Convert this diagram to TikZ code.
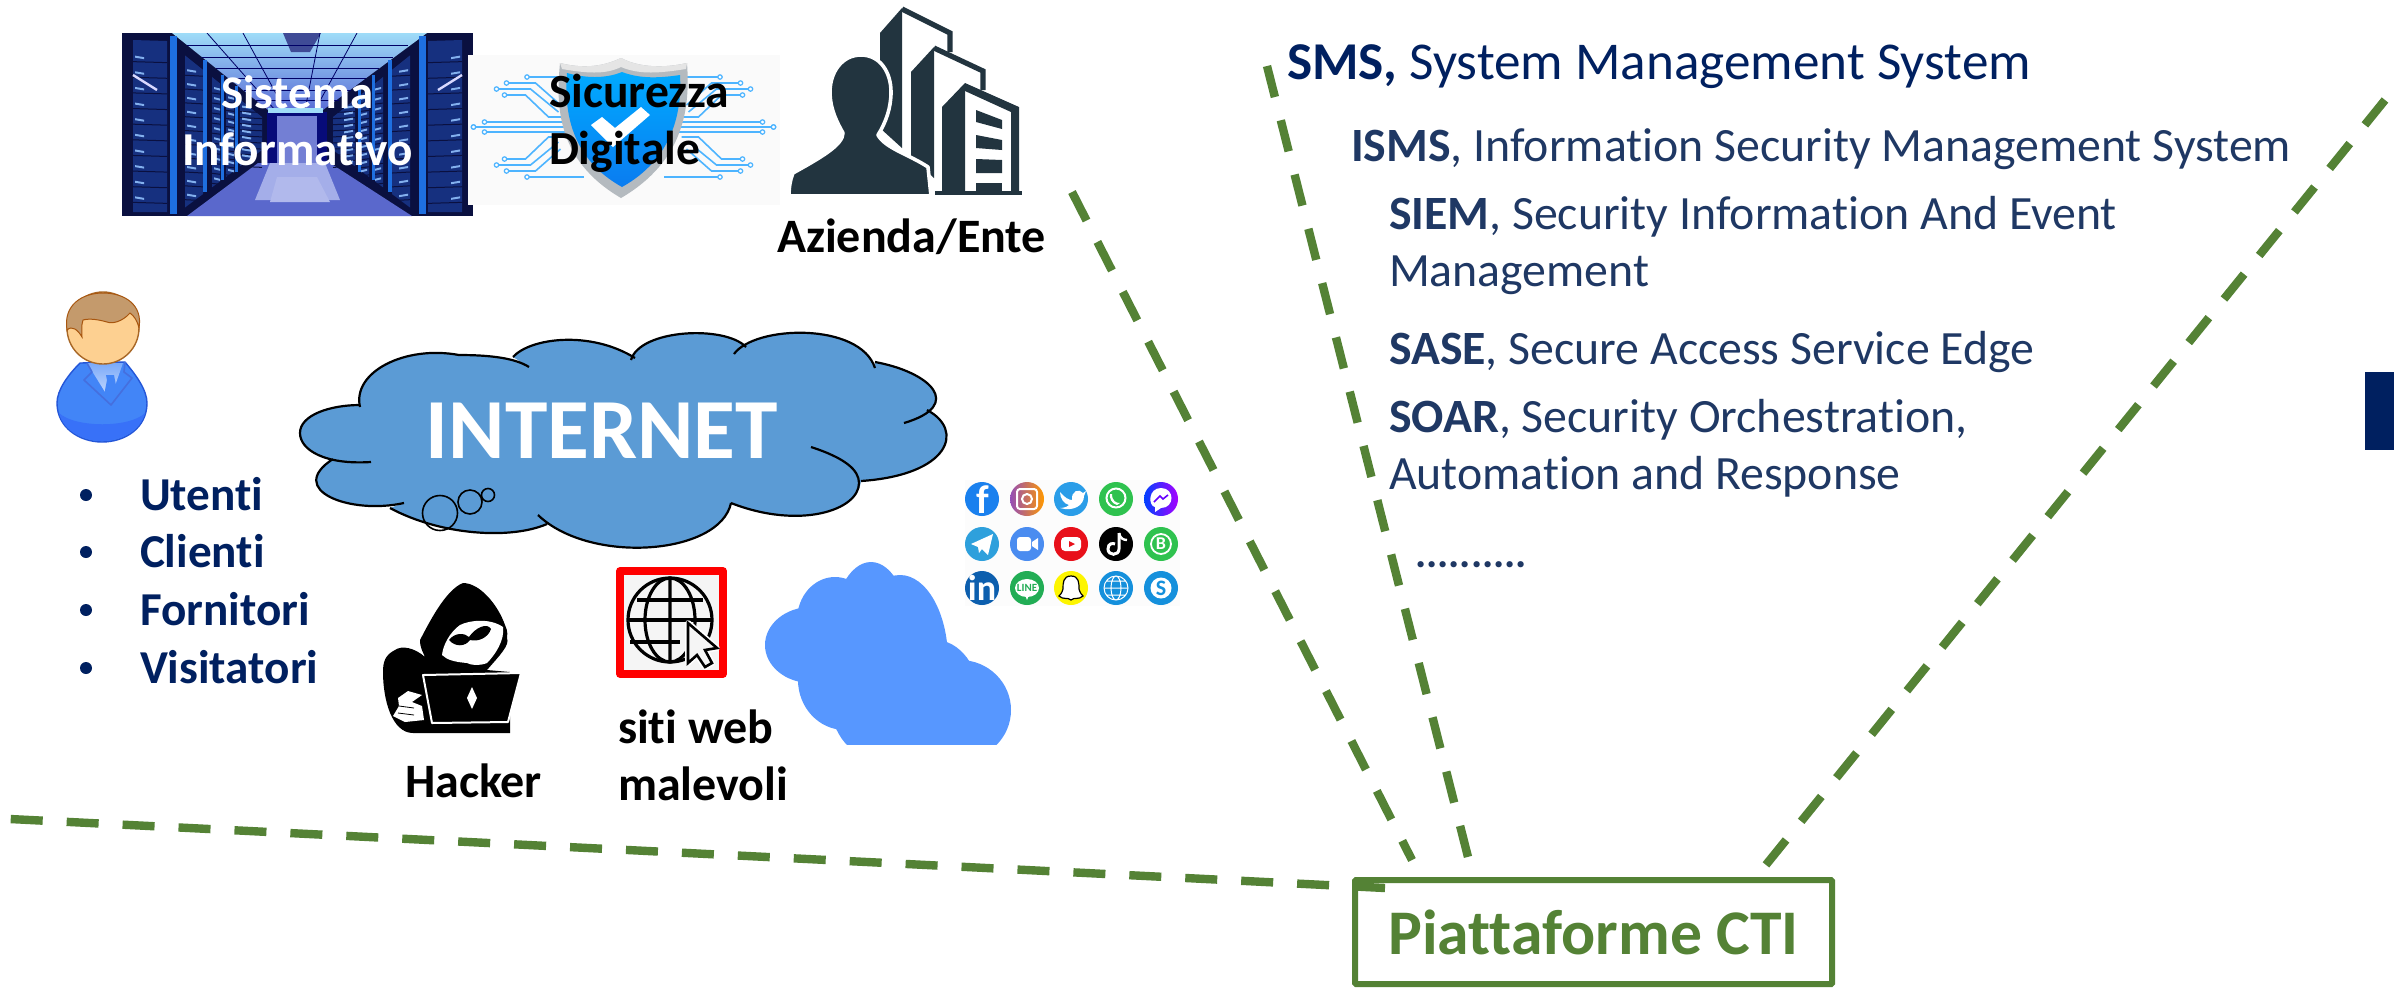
\documentclass[tikz,border=0pt]{standalone}
\usepackage{fontspec}
\setmainfont[Ligatures=NoCommon]{Carlito}
\usetikzlibrary{shapes.geometric}
\definecolor{navy}{HTML}{002060}
\definecolor{slate}{HTML}{1F3864}
\definecolor{ctigreen}{HTML}{548235}
\definecolor{iconslate}{HTML}{22343F}
\definecolor{cloudblue}{HTML}{5B9BD5}
\definecolor{softcloud}{HTML}{5797FF}
\definecolor{circuit}{HTML}{4DB4FF}
\definecolor{rackdark}{HTML}{0A1040}
\definecolor{rackface}{HTML}{16307F}
\definecolor{rackstrip}{HTML}{1E6FE0}
\definecolor{ceilA}{HTML}{9FDCF8}
\definecolor{ceilB}{HTML}{5A6CD6}
\definecolor{floorA}{HTML}{5A68CC}
\definecolor{floorB}{HTML}{7D8BE0}
\definecolor{shieldA}{HTML}{00AAFF}
\definecolor{shieldB}{HTML}{0A7CF0}
\definecolor{shieldgrey}{HTML}{B4BABF}
\definecolor{fbblue}{HTML}{1A80EE}
\definecolor{wagreen}{HTML}{2FC24F}
\definecolor{twblue}{HTML}{2A9DE8}
\definecolor{tgblue}{HTML}{2EA0DC}
\definecolor{zmblue}{HTML}{4A8CF0}
\definecolor{ytred}{HTML}{E8101A}
\definecolor{liblue}{HTML}{0D5FAE}
\definecolor{lngreen}{HTML}{22AD55}
\definecolor{scyellow}{HTML}{FDF500}
\definecolor{skblue}{HTML}{1590DC}
\definecolor{suit}{HTML}{4285F7}
\definecolor{suitedge}{HTML}{2456D8}
\definecolor{faceskin}{HTML}{FDD091}
\definecolor{hairtone}{HTML}{C49A6C}
\definecolor{hairedge}{HTML}{A8560F}
\newcommand\pxf[1]{\fontsize{#1}{#1}\selectfont}
\tikzset{
 x=.5pt,y=-.5pt,
 txt/.style={inner sep=0pt,outer sep=0pt,anchor=base west},
 darklabel/.style={txt,font=\pxf{24}\bfseries,text=black},
 bulletlabel/.style={txt,font=\pxf{23.6}\bfseries,text=navy},
 acro/.style={txt,font=\pxf{23.9},text=slate,align=left},
 greendash/.style={draw=ctigreen,line width=4.2pt,dash pattern=on 16pt off 12pt},
 social/.style={inner sep=0pt,outer sep=0pt,text=white,font=\pxf{15}\bfseries},
 wl/.style={white,line width=.5pt},
 circ/.style={circuit,line width=.8pt},
}
\begin{document}
\begin{tikzpicture}
\useasboundingbox (0,0) rectangle (2394,987);
\fill[white] (0,0) rectangle (2394,987);

% ---------- Server image
\begin{scope}
\clip (122,33) rectangle (473,216);
\fill[rackdark] (122,33) rectangle (473,216);
\shade[top color=ceilA,bottom color=ceilB] (172,33) -- (427,33) -- (323,110) -- (268,110) -- cycle;
\fill[ceilB!70!black] (283,33) -- (321,33) -- (310,52) -- (291,52) -- cycle;
\draw[black!60!blue,line width=.4pt] (207,33) -- (275,110) (243,33) -- (285,110) (320,33) -- (305,110) (357,33) -- (315,110);
\foreach \yy/\xa in {45/187,57/202,68/216,78/229,90/244,100/256} \draw[black!60!blue,line width=.4pt] (\xa,\yy) -- ({595-\xa},\yy);
\fill[floorA] (258,163) -- (330,163) -- (412,216) -- (187,216) -- cycle;
\fill[floorB!70!white] (270,163) -- (325,163) -- (340,200) -- (255,200) -- cycle;
\fill[floorB!60!white] (277,177) -- (317,177) -- (330,202) -- (270,202) -- cycle;
\fill[rackdark!70!blue] (267,112) rectangle (327,163);
\fill[floorA!85!white] (277,116) rectangle (317,163);
\fill[ceilA] (268,108) rectangle (323,113);
\foreach \xa/\xb in {133/167,185/203,212/220,226/234,240/262} {
  \foreach \mir in {0,1} {
  \begin{scope}[shift={({595*\mir},0)},xscale={1-2*\mir}]
    \pgfmathsetmacro\ta{max(40,45+.8*(\xa-172))}
    \pgfmathsetmacro\tb{max(40,45+.8*(\xb-172))}
    \pgfmathsetmacro\ba{min(212,206-.746*(\xa-187))}
    \pgfmathsetmacro\bb{min(212,206-.746*(\xb-187))}
    \fill[rackface] (\xa,\ta) -- (\xb,\tb) -- (\xb,\bb) -- (\xa,\ba) -- cycle;
    \foreach \k in {1,...,10} {
      \pgfmathsetmacro\ya{\ta+(\ba-\ta)*\k/11}
      \fill[white!45!rackstrip] (\xa+2,\ya) -- +({min(9,\xb-\xa-2)},1.5) -- +({min(9,\xb-\xa-2)},3.5) -- +(0,2) -- cycle;
      \draw[rackdark,line width=.5pt] (\xa,\ya+6) -- (\xb,\ya+7);
    }
  \end{scope}
  }
}
\foreach \xs/\ws/\ya/\yb in {173/7/36/214,205/4/60/192,222/3/75/180,236/3/86/172} {
  \fill[rackstrip] (\xs-\ws/2,\ya) rectangle (\xs+\ws/2,\yb);
  \fill[rackstrip] ({595-\xs-\ws/2},\ya) rectangle ({595-\xs+\ws/2},\yb);
}
\draw[white!85!blue,line width=1.2pt] (133,75) -- (157,90) (462,75) -- (438,90);
\end{scope}

% ---------- Shield image
\fill[black!2] (468,55) rectangle (780,205);
\foreach \sx/\sy in {1/1,-1/1,1/-1,-1/-1} {
\begin{scope}[shift={(623.5,127)},xscale=\sx,yscale=\sy]
  \draw[circ] (-96.5,-50) -- (-40,-50);
  \draw[circ] (-117,-44) -- (-88,-44) -- (-63,-22);
  \draw[circ] (-127,-38) -- (-93,-38) -- (-65,-15);
  \draw[circ] (-119,-32) -- (-98,-32) -- (-75,-10) -- (-58,-10);
  \draw[circ] (-139,-5) -- (-50,-5);
  \draw[circ] (-150,0) -- (-50,0);
  \foreach \px/\py in {-96.5/-50,-117/-44,-127/-38,-119/-32,-139/-5,-150/0}
    \draw[circuit,line width=.6pt,fill=white] (\px,\py) circle (2.2);
\end{scope}
}
\fill[shieldgrey] (621,58) .. controls (600,68) and (580,68) .. (560,63) .. controls (556,105) and (556,160) .. (621,198) .. controls (686,160) and (690,105) .. (687,63) .. controls (665,68) and (640,68) .. (621,58) -- cycle;
\fill[white!90!black] (621,58) .. controls (600,68) and (580,68) .. (560,63) -- (562,69) .. controls (585,73) and (605,75) .. (621,67) .. controls (640,75) and (660,73) .. (686,69) -- (687,63) .. controls (665,68) and (640,68) .. (621,58) -- cycle;
\shade[top color=shieldA,bottom color=shieldB] (622,72) .. controls (605,79) and (585,78) .. (567,73) .. controls (564,110) and (570,158) .. (622,187) .. controls (674,158) and (682,110) .. (680,75) .. controls (660,78) and (640,79) .. (622,72) -- cycle;
\fill[white] (591,125) -- (602,117) -- (615,128) -- (641,107) -- (650,115) -- (613,147) -- cycle;

% ---------- Azienda icon
\fill[iconslate] (880,33) -- (902,8) -- (902,148) -- (880,128) -- cycle;
\draw[iconslate,line width=2.6pt,line join=miter] (902,9) -- (950,33) -- (950,52);
\fill[iconslate] (911,72) -- (934,47) -- (934,178) -- (911,157) -- cycle;
\draw[iconslate,line width=2.6pt,line join=miter] (934,48) -- (983,71) -- (983,90);
\fill[iconslate] (942,107) -- (965,83) -- (965,194) -- (942,194) -- cycle;
\fill[iconslate] (965,83) -- (1019,107) -- (1019,194) -- (1011,194) -- (1011,112) -- (965,91) -- cycle;
\fill[iconslate] (976,110) -- (1002,120) -- (1002,129) -- (976,122) -- cycle;
\fill[iconslate] (976,135) -- (1002,140) -- (1002,150) -- (976,148) -- cycle;
\fill[iconslate] (976,159) -- (1002,160) -- (1002,173) -- (976,173) -- cycle;
\fill[iconslate] (976,183) rectangle (1002,194);
\fill[iconslate] (935,191) rectangle (1022,195);
\fill[iconslate,draw=white,line width=1.8pt,line join=round] (861,55) .. controls (842,55) and (830,72) .. (830,92) .. controls (830,110) and (838,124) .. (843,133) .. controls (843,145) and (820,158) .. (793,173) .. controls (790,180) and (789,188) .. (789,196) -- (931,196) -- (928,167) .. controls (910,155) and (885,148) .. (878,135) .. controls (886,122) and (891,108) .. (891,92) .. controls (891,72) and (880,55) .. (861,55) -- cycle;

% ---------- Person
\fill[suit,draw=suitedge,line width=.7pt] (80,363) .. controls (68,375) and (57,390) .. (57,403) .. controls (57,428) and (80,442) .. (102,442) .. controls (125,442) and (147,428) .. (147,403) .. controls (147,390) and (136,375) .. (125,362) -- cycle;
\fill[suit!85!blue] (59,413) .. controls (75,428) and (130,428) .. (145,413) .. controls (140,432) and (120,441) .. (102,441) .. controls (84,441) and (64,432) .. (59,413) -- cycle;
\shade[top color=suit!70!white,bottom color=white!75!suit] (87,363) -- (123,363) -- (110,400) -- cycle;
\fill[suit] (106,375) -- (114,375) -- (115,380) -- (118,395) -- (110,402) -- (104,395) -- (107,380) -- cycle;
\draw[suitedge!85!white,line width=.8pt,line join=round] (87,363) -- (92,372) -- (84,380) -- (111,405) -- (132,378) -- (124,372) -- (125,362);
\fill[faceskin,draw=orange!60!black!85!white,line width=.7pt] (103,328) ellipse (36 and 36);
\fill[hairtone,draw=hairedge,line width=.5pt] (67,330) .. controls (63,305) and (82,293) .. (103,293) .. controls (125,293) and (143,305) .. (139,328) .. controls (137,320) and (134,316) .. (130,313) .. controls (122,322) and (112,324) .. (107,322) .. controls (100,320) and (90,318) .. (83,320) .. controls (81,326) and (82,332) .. (82,337) .. controls (78,330) and (72,325) .. (67,330) -- cycle;

% ---------- Cloud
\fill[cloudblue] (360,405) .. controls (352,372) and (405,345) .. (459,355) .. controls (490,355) and (515,358) .. (529,367) -- (513,357) .. controls (530,338) and (590,330) .. (635,358) -- (631,360) .. controls (640,329) and (725,325) .. (746,347) -- (734,354) .. controls (755,325) and (860,322) .. (875,368) -- (875,362) .. controls (930,372) and (965,405) .. (904,423) -- (927,410) .. controls (965,430) and (950,475) .. (861,481) .. controls (859,510) and (800,530) .. (731,503) .. controls (720,555) and (590,565) .. (538,515) -- (547,524) .. controls (510,540) and (440,535) .. (390,508) -- (404,503) .. controls (350,515) and (285,490) .. (333,459) -- (371,462) .. controls (325,465) and (300,450) .. (300,433) .. controls (300,415) and (330,405) .. (360,405) -- cycle;
\draw[black,line width=1.1pt]
 (360,407) .. controls (352,372) and (405,345) .. (459,355) .. controls (490,355) and (515,358) .. (529,367)
 (513,357) .. controls (530,338) and (590,330) .. (635,358)
 (631,360) .. controls (640,329) and (725,325) .. (746,347)
 (734,354) .. controls (755,325) and (860,322) .. (875,368)
 (875,362) .. controls (930,372) and (965,405) .. (904,423)
 (927,410) .. controls (965,430) and (950,475) .. (861,481)
 (811,447) .. controls (845,458) and (859,470) .. (859,483) .. controls (859,510) and (800,530) .. (731,503)
 (731,503) .. controls (720,555) and (590,565) .. (538,515)
 (547,524) .. controls (510,540) and (440,535) .. (390,508)
 (404,503) .. controls (350,515) and (285,490) .. (333,459)
 (371,462) .. controls (325,465) and (300,450) .. (300,433) .. controls (300,415) and (330,405) .. (360,405);
\draw[black,line width=.8pt] (440,513) circle (17.5) (470,502) circle (12) (488,495) circle (6.5);
\node[inner sep=0pt,text=white,font=\pxf{42.8}\bfseries] (inet) at (602,431) {INTERNET};

% ---------- Bullets
\foreach \yy in {495,552,610,668} \fill[navy] (86,\yy) circle (6);
\node[bulletlabel] (utenti) at (140,510) {Utenti};
\node[bulletlabel] (clienti) at (140,567) {Clienti};
\node[bulletlabel] (fornitori) at (140,625) {Fornitori};
\node[bulletlabel] (visitatori) at (140,683) {Visitatori};

% ---------- Hacker
\fill[black] (463,583) .. controls (445,590) and (428,625) .. (420,640) .. controls (420,648) and (423,652) .. (425,657) .. controls (415,648) and (402,645) .. (395,650) .. controls (385,655) and (383,662) .. (383,672) .. controls (383,700) and (392,733) .. (413,733) -- (510,733) -- (510,672) -- (487,670) .. controls (500,655) and (510,645) .. (507,638) .. controls (508,630) and (506,628) .. (505,625) .. controls (498,605) and (480,583) .. (463,583) -- cycle;
\fill[white] (460,625) .. controls (470,620) and (490,618) .. (503,627) .. controls (505,640) and (495,655) .. (487,663) .. controls (480,666) and (470,665) .. (467,663) .. controls (455,662) and (447,660) .. (442,655) .. controls (443,645) and (450,632) .. (460,625) -- cycle;
\fill[black] (449,640) .. controls (455,632) and (465,633) .. (469,637) .. controls (475,628) and (487,622) .. (491,629) .. controls (488,638) and (478,642) .. (470,640) .. controls (465,647) and (455,647) .. (449,640) -- cycle;
\fill[black,draw=white,line width=1pt,line join=round] (423,675) -- (521,673) -- (508,722) -- (432,723) -- cycle;
\fill[white] (472,687) -- (477,698) -- (472,709) -- (467,698) -- cycle;
\fill[black] (433,725) rectangle (510,733);
\fill[white] (393,716) -- (399,706) -- (398,698) -- (408,691) -- (422,695) -- (412,702) -- (422,706) -- (424,720) -- (405,722) -- cycle;
\draw[black,line width=.4pt] (399,706) -- (414,708) (398,713) -- (414,715);
\node[darklabel] (hacker) at (405,797) {Hacker};

% ---------- Web icon
\draw[red,line width=3.75pt,fill=black!4,line join=round] (620,571) rectangle (723,674);
\node[draw=black,line width=1.6pt,circle,minimum size=42pt,inner sep=0pt] (globe) at (670,620) {};
\draw[black,line width=1.6pt] (670,578) -- (670,662) (670,620) ellipse (25 and 42);
\draw[black,line width=1.6pt] (637,600) -- (703,600) (628,620) -- (712,620) (630,642) -- (680,642);
\draw[white,line width=3pt,fill=white,line join=round] (688,623) -- (688,663) -- (697,655) -- (705,667) -- (712,663) -- (705,650) -- (717,648) -- cycle;
\draw[black,line width=1.3pt,fill=black!4,line join=miter] (688,623) -- (688,663) -- (697,655) -- (705,667) -- (712,663) -- (705,650) -- (717,648) -- cycle;
\node[darklabel] (siti) at (618,743) {siti web};
\node[darklabel] (malevoli) at (618,800) {malevoli};

% ---------- Soft blue cloud
\begin{scope}
\clip (760,555) rectangle (1015,744);
\fill[softcloud] (871,640) ellipse (40 and 78);
\fill[softcloud] (835,620) ellipse (38 and 43);
\fill[softcloud] (811,645) ellipse (46 and 38);
\fill[softcloud] (845,680) ellipse (47 and 50);
\fill[softcloud] (900,660) ellipse (48 and 85);
\fill[softcloud] (935,700) ellipse (45 and 60);
\fill[softcloud] (960,710) ellipse (51 and 50);
\fill[softcloud] (880,700) ellipse (50 and 60);
\end{scope}

% ---------- Social icons
\fill[black!1] (965,480) rectangle (1180,606);
\fill[fbblue] (982,499) circle (17);
\node[social,font=\pxf{20}\bfseries] (gf) at (983,500) {f};
\shade[left color=blue!60!red!70!white,right color=orange!80!yellow] (1027,499) circle (17);
\draw[white,line width=1pt,rounded corners=1.5pt] (1017,489) rectangle (1037,509);
\draw[white,line width=1pt] (1027,499) circle (5);
\fill[twblue] (1071,499) circle (17);
\fill[white] (1060,492) .. controls (1065,498) and (1069,500) .. (1072,500) .. controls (1071,491) and (1079,488) .. (1083,493) -- (1086,491) -- (1084,496) .. controls (1084,505) and (1074,512) .. (1060,508) .. controls (1065,508) and (1068,506) .. (1069,505) .. controls (1064,504) and (1060,498) .. (1060,492) -- cycle;
\fill[wagreen] (1116,499) circle (17);
\draw[white,line width=1pt] (1116,498) circle (9.5);
\fill[white] (1112,494) .. controls (1112,501) and (1116,503) .. (1120,503) -- (1117,505) .. controls (1112,504) and (1109,498) .. (1110,494) -- cycle;
\shade[left color=blue!75!cyan,right color=magenta!65!blue] (1161,499) circle (17);
\fill[white] (1161,488) .. controls (1148,488) and (1148,506) .. (1155,507) -- (1155,512) -- (1161,508) .. controls (1175,508) and (1175,488) .. (1161,488) -- cycle;
\draw[blue!60!magenta,line width=.8pt] (1154,502) -- (1160,496) -- (1163,499) -- (1168,495);
\fill[tgblue] (982,544) circle (17);
\fill[white] (971,544) -- (993,534) -- (988,555) -- (982,549) -- (979,553) -- (978,547) -- cycle;
\fill[zmblue] (1027,544) circle (17);
\fill[white,rounded corners=1.5pt] (1017,537) rectangle (1031,551);
\fill[white] (1032,542) -- (1038,538) -- (1038,550) -- (1032,546) -- cycle;
\fill[ytred] (1071,544) circle (17);
\fill[white,rounded corners=2pt] (1061,537) rectangle (1081,551);
\fill[ytred] (1069,541) -- (1075,544) -- (1069,547) -- cycle;
\fill[black] (1116,544) circle (17);
\draw[white,line width=1.5pt] (1119,533) -- (1119,549) .. controls (1119,556) and (1108,556) .. (1108,549) .. controls (1108,543) and (1113,543) .. (1115,544);
\draw[white,line width=1.2pt] (1119,533) .. controls (1120,538) and (1123,540) .. (1127,540);
\fill[wagreen] (1161,544) circle (17);
\draw[white,line width=.9pt] (1161,544) circle (10);
\node[social,font=\pxf{9}\bfseries] (gb) at (1161,544) {B};
\fill[liblue] (982,588) circle (17);
\node[social,font=\pxf{18}\bfseries] (gin) at (982,588) {in};
\fill[lngreen] (1027,588) circle (17);
\fill[white] (1027,588) ellipse (12 and 9);
\fill[white] (1025,595) -- (1029,595) -- (1027,600) -- cycle;
\node[social,font=\pxf{5.5}\bfseries,text=lngreen] (gl) at (1027,588) {LINE};
\fill[scyellow] (1071,588) circle (17);
\draw[black,fill=white,line width=.6pt] (1071,576) .. controls (1063,576) and (1063,583) .. (1063,589) .. controls (1062,593) and (1060,595) .. (1059,596) .. controls (1063,600) and (1068,597) .. (1071,600) .. controls (1074,597) and (1079,600) .. (1083,596) .. controls (1082,595) and (1080,593) .. (1079,589) .. controls (1079,583) and (1079,576) .. (1071,576) -- cycle;
\fill[skblue] (1116,588) circle (17);
\draw[wl] (1116,588) circle (12) (1116,588) ellipse (5 and 12) (1104,588) -- (1128,588) (1106,581) -- (1126,581) (1106,595) -- (1126,595);
\fill[skblue] (1161,588) circle (17);
\fill[white] (1161,588) circle (10.5);
\node[social,font=\pxf{11}\bfseries,text=skblue] (gs) at (1161,588) {S};

% ---------- Top labels
\node[txt,font=\pxf{23.4}\bfseries,text=white] (sis) at (221,108) {Sistema};
\node[txt,font=\pxf{23.6}\bfseries,text=white] (inf) at (182,165) {Informativo};
\node[txt,font=\pxf{23.8}\bfseries,text=black] (sic) at (549,107) {Sicurezza};
\node[txt,font=\pxf{23.8}\bfseries,text=black] (dig) at (549,164) {Digitale};
\node[darklabel] (az) at (777,252) {Azienda/Ente};

% ---------- Acronyms
\node[txt,font=\pxf{26.6},text=navy] (sms) at (1287,79.5) {\textbf{SMS,} System Management System};
\node[acro] (isms) at (1351,161) {\textbf{ISMS}, Information Security Management System};
\node[acro] (siem1) at (1389,229) {\textbf{SIEM}, Security Information And Event};
\node[acro] (siem2) at (1389,286) {Management};
\node[acro] (sase) at (1389,364) {\textbf{SASE}, Secure Access Service Edge};
\node[acro] (soar1) at (1389,432) {\textbf{SOAR}, Security Orchestration,};
\node[acro] (soar2) at (1389,489) {Automation and Response};
\node[acro,font=\pxf{21}\bfseries] (dots) at (1415,567) {..........};

% ---------- Right bar
\fill[navy] (2365,372) rectangle (2394,450);

% ---------- CTI box
\node[draw=ctigreen,line width=3pt,fill=white,minimum width=238.5pt,minimum height=52pt,inner sep=0pt,
  text=ctigreen,font=\pxf{31.8}\bfseries,rounded corners=.5pt] (cti) at (1593.5,932) {Piattaforme CTI};
\coordinate (a1) at (10,819);
\coordinate (b1) at (1385,888);
\coordinate (a2) at (1072,192);
\coordinate (b2) at (1412,860);
\coordinate (a3) at (1267,66);
\coordinate (b3) at (1468,857);
\coordinate (a4) at (2385,100);
\coordinate (b4) at (1765,866);
\draw[greendash] (b1) -- (a1);
\draw[greendash] (a2) -- (b2);
\draw[greendash] (a3) -- (b3);
\draw[greendash] (a4) -- (b4);
\end{tikzpicture}
\end{document}
